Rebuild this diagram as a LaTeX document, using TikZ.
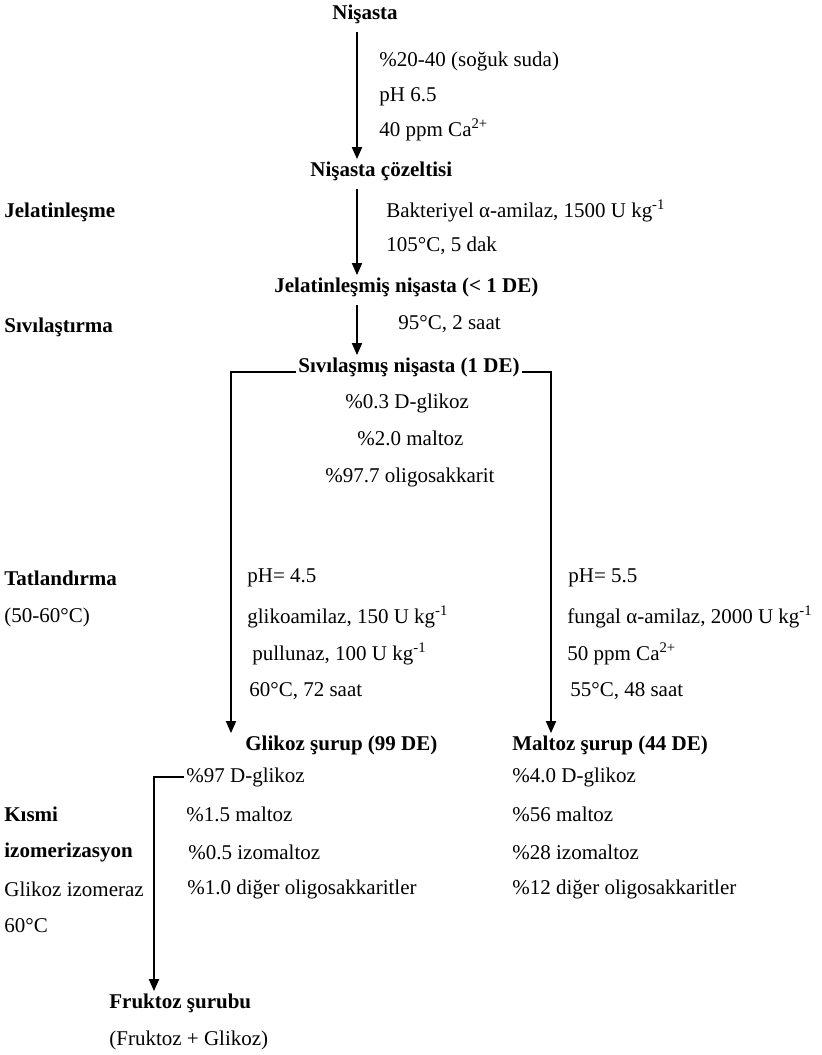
\documentclass[tikz,border=0pt]{standalone}
\usepackage{fontspec}
\setmainfont{Liberation Serif}
\usetikzlibrary{arrows.meta,positioning}

\begin{document}
\begin{tikzpicture}[
    x=0.5pt, y=-0.5pt,
    font=\fontsize{10.5}{12}\selectfont,
    txt/.style={anchor=west, inner sep=1pt},
    head/.style={anchor=west, inner sep=1pt, font=\fontsize{10.5}{12}\selectfont\bfseries},
    arr/.style={-{Triangle[length=6pt, width=5pt]}, line width=0.9pt}
]
  \useasboundingbox (0,0) rectangle (822,1055);
  \coordinate (spine) at (357,0);
  \coordinate (lbr) at (231,0);
  \coordinate (rbr) at (551,0);
  \coordinate (fbr) at (154,0);

  % main line
  \node[head] (nisasta) at (330,14) {Nişasta};
  \node[txt] (c1) at (377,61) {\%20-40 (soğuk suda)};
  \node[txt] (c2) at (377,97) {pH 6.5};
  \node[txt] (c3) at (377,130) {40 ppm Ca\textsuperscript{2+}};
  \node[head] (cozelti) at (308,171) {Nişasta çözeltisi};

  \node[head] (jel) at (2,212) {Jelatinleşme};
  \node[txt] (j1) at (384,211) {Bakteriyel α-amilaz, 1500 U kg\textsuperscript{-1}};
  \node[txt] (j2) at (384,246) {105°C, 5 dak};
  \node[head] (jelnis) at (272,287) {Jelatinleşmiş nişasta (< 1 DE)};

  \node[head] (sivlas) at (2,327) {Sıvılaştırma};
  \node[txt] (s1) at (396,324) {95°C, 2 saat};
  \node[head] (sivi) at (296,367) {Sıvılaşmış nişasta (1 DE)};
  \node[txt] (o1) at (343,403) {\%0.3 D-glikoz};
  \node[txt] (o2) at (355,438) {\%2.0 maltoz};
  \node[txt] (o3) at (323,477) {\%97.7 oligosakkarit};

  % saccharification
  \node[head] (tatl) at (2,578) {Tatlandırma};
  \node[txt] (tatlt) at (2,617) {(50-60°C)};
  \node[txt] (g1) at (245,578) {pH= 4.5};
  \node[txt] (g2) at (245,617) {glikoamilaz, 150 U kg\textsuperscript{-1}};
  \node[txt] (g3) at (250,654) {pullunaz, 100 U kg\textsuperscript{-1}};
  \node[txt] (g4) at (247,691) {60°C, 72 saat};
  \node[txt] (m1) at (566,578) {pH= 5.5};
  \node[txt] (m2) at (565,617) {fungal α-amilaz, 2000 U kg\textsuperscript{-1}};
  \node[txt] (m3) at (565,654) {50 ppm Ca\textsuperscript{2+}};
  \node[txt] (m4) at (568,691) {55°C, 48 saat};

  % syrups
  \node[head] (glikoz) at (243,745) {Glikoz şurup (99 DE)};
  \node[txt] (gs1) at (184,777) {\%97 D-glikoz};
  \node[txt] (gs2) at (184,814) {\%1.5 maltoz};
  \node[txt] (gs3) at (186,852) {\%0.5 izomaltoz};
  \node[txt] (gs4) at (185,889) {\%1.0 diğer oligosakkaritler};
  \node[head] (maltoz) at (510,745) {Maltoz şurup (44 DE)};
  \node[txt] (ms1) at (510,777) {\%4.0 D-glikoz};
  \node[txt] (ms2) at (510,814) {\%56 maltoz};
  \node[txt] (ms3) at (510,852) {\%28 izomaltoz};
  \node[txt] (ms4) at (510,889) {\%12 diğer oligosakkaritler};

  % isomerisation
  \node[head] (kismi) at (2,814) {Kısmi};
  \node[head] (izom) at (2,852) {izomerizasyon};
  \node[txt] (izo1) at (2,889) {Glikoz izomeraz};
  \node[txt] (izo2) at (2,926) {60°C};
  \node[head] (fruktoz) at (107,1003) {Fruktoz şurubu};
  \node[txt] (fruk2) at (107,1040) {(Fruktoz + Glikoz)};

  % arrows
  \draw[arr, shorten <=3pt] (nisasta.south -| spine) -- (cozelti.north -| spine);
  \draw[arr, shorten <=3pt] (cozelti.south -| spine) -- (jelnis.north -| spine);
  \draw[arr, shorten <=3pt] (jelnis.south -| spine) -- (sivi.north -| spine);
  \draw[arr] (sivi.base west) -| (glikoz.north -| lbr);
  \draw[arr] (sivi.base east) -| (maltoz.north -| rbr);
  \draw[arr] (gs1.west) -| (fruktoz.north -| fbr);
\end{tikzpicture}
\end{document}
